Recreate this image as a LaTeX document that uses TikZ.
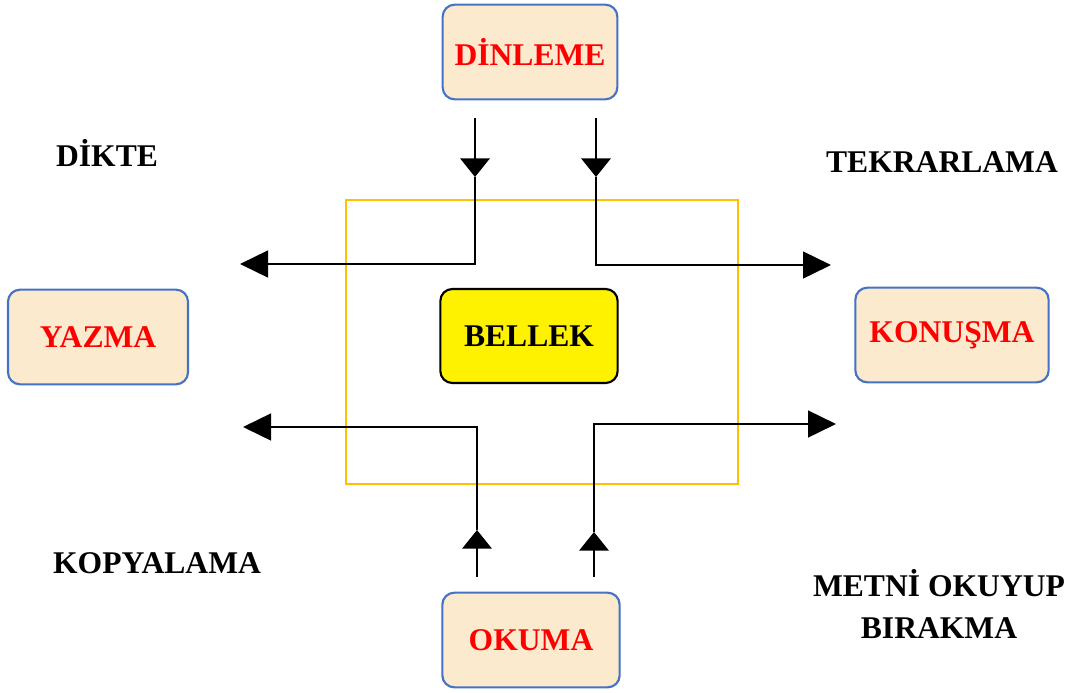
\documentclass[tikz,border=0pt]{standalone}
\usepackage{fontspec}
\setmainfont{Liberation Serif}
\usetikzlibrary{arrows.meta}
\definecolor{skillfill}{RGB}{252,234,206}
\definecolor{skillline}{RGB}{68,114,196}
\definecolor{memframe}{RGB}{255,192,0}
\begin{document}
\begin{tikzpicture}[x=0.75pt, y=-0.75pt, line width=2pt,
  skill node/.style={rounded corners=9pt, draw=skillline, fill=skillfill, line width=1.6pt, text=red, minimum height=71pt},
  memory node/.style={rounded corners=9pt, draw=black, fill=yellow, line width=1.6pt, minimum width=133pt, minimum height=70.5pt},
  mid arrow/.style={-{Triangle[length=14pt,width=22pt]}},
  end arrow/.style={-{Triangle[length=21pt,width=20pt]}}]
\useasboundingbox (0,0) rectangle (1072,693);
\draw[memframe, line width=1.8pt] (346,200) rectangle (738,484);
\begin{scope}[every node/.style={font=\fontsize{23.7}{31.5}\selectfont\bfseries}]
\node[skill node, minimum width=131pt] (dinleme) at (530,52) {DİNLEME};
\node[skill node, minimum width=135pt] (yazma) at (98,337) {YAZMA};
\node[skill node, minimum width=145pt] (konusma) at (952,335) {KONUŞMA};
\node[skill node, minimum width=133pt] (okuma) at (531,640) {OKUMA};
\node[memory node] (bellek) at (529,336) {BELLEK};
\node (dikte) at (107,153) {DİKTE};
\node (tekrar) at (942,162) {TEKRARLAMA};
\node (kopya) at (157,563) {KOPYALAMA};
\node[align=center] (metni) at (939,604) {METNİ OKUYUP\\BIRAKMA};
%\node (x) at (,) {};
\end{scope}
\begin{scope}
\coordinate (tl in) at (475,118);
\coordinate (tl mid) at (475,177);
\coordinate (tl out) at (240,264);
\coordinate (tr in) at (596,118);
\coordinate (tr mid) at (596,177);
\coordinate (tr out) at (831,265);
\coordinate (bl in) at (477,577);
\coordinate (bl mid) at (477,530);
\coordinate (bl out) at (243,427);
\coordinate (br in) at (594,577);
\coordinate (br mid) at (594,532);
\coordinate (br out) at (836,424);
\draw[mid arrow] (tl in) -- (tl mid);
\draw[end arrow] (tl mid) |- (tl out);
\draw[mid arrow] (tr in) -- (tr mid);
\draw[end arrow] (tr mid) |- (tr out);
\draw[mid arrow] (bl in) -- (bl mid);
\draw[end arrow] (bl mid) |- (bl out);
\draw[mid arrow] (br in) -- (br mid);
\draw[end arrow] (br mid) |- (br out);
\end{scope}
\end{tikzpicture}
\end{document}
